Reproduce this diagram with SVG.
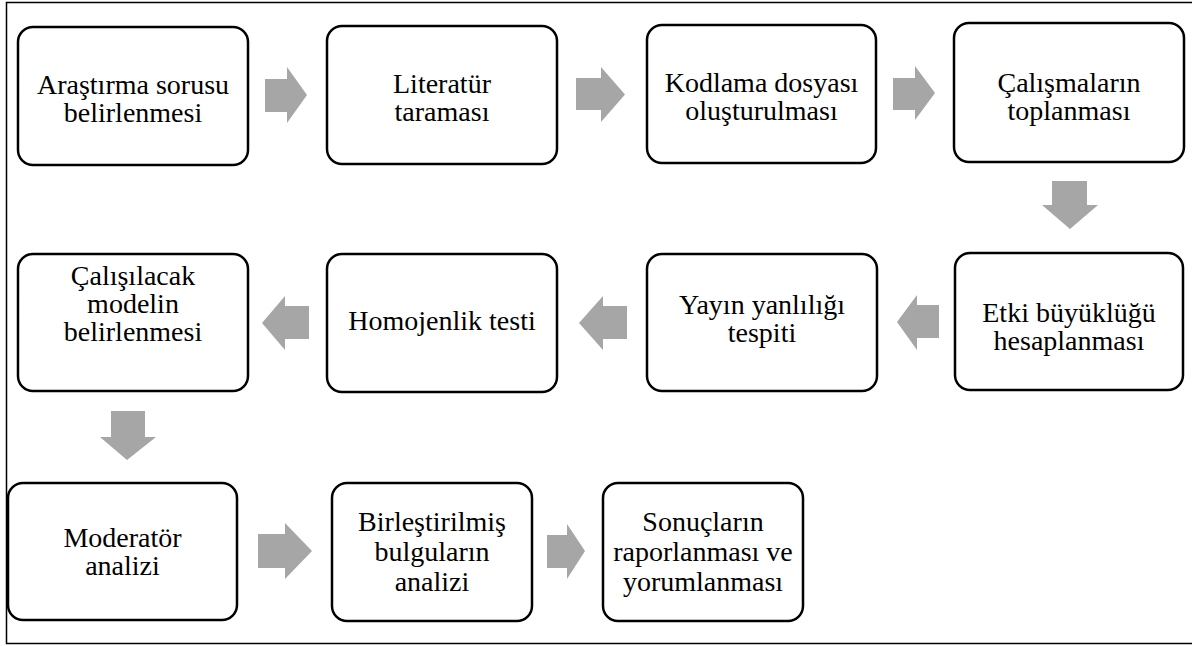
<svg xmlns="http://www.w3.org/2000/svg" width="1192" height="646" viewBox="0 0 1192 646">
<defs>
<style>
.frame{fill:none;stroke:#000;stroke-width:1.5}
.box{fill:#fff;stroke:#000;stroke-width:2.5}
.arr{fill:#a6a6a6;stroke:none}
</style>
</defs>
<rect width="1192" height="646" fill="#fff"/>
<rect class="frame" x="6.5" y="2.5" width="1200" height="641"/>
<g id="connectors">
<polygon class="arr" points="265,79 287,79 287,67 307,95 287,123 287,112 265,112"/>
<polygon class="arr" points="576,78 601,78 601,67 625,94.5 601,122 601,110 576,110"/>
<polygon class="arr" points="893,78 915,78 915,66 935,93 915,120 915,110 893,110"/>
<polygon class="arr" points="1052,181 1087,181 1087,205 1098,205 1070,229 1042,205 1052,205"/>
<polygon class="arr" points="939,305 917,305 917,295 897,322 917,350 917,338 939,338"/>
<polygon class="arr" points="627,306 603,306 603,296 579,323 603,350 603,339 627,339"/>
<polygon class="arr" points="309,306 285,306 285,296 262,323 285,350 285,339 309,339"/>
<polygon class="arr" points="111,411 145,411 145,437 156,437 127,460 100,437 111,437"/>
<polygon class="arr" points="258,534 285,534 285,523 312,551 285,579 285,568 258,568"/>
<polygon class="arr" points="547,535 567,535 567,524 585,551 567,579 567,568 547,568"/>
</g>
<g font-family="Liberation Serif, serif" font-size="28" fill="#000" text-anchor="middle">
<g id="n1"><rect class="box" x="18" y="27" width="230" height="138" rx="15"/><text x="133" y="94">Araştırma sorusu</text><text x="133" y="122">belirlenmesi</text></g>
<g id="n2"><rect class="box" x="327" y="26" width="230" height="138" rx="15"/><text x="442" y="93">Literatür</text><text x="442" y="121">taraması</text></g>
<g id="n3"><rect class="box" x="647" y="25" width="229" height="138" rx="15"/><text x="761.5" y="92">Kodlama dosyası</text><text x="761.5" y="120">oluşturulması</text></g>
<g id="n4"><rect class="box" x="954" y="23" width="230" height="139" rx="15"/><text x="1069" y="92">Çalışmaların</text><text x="1069" y="120">toplanması</text></g>
<g id="n5"><rect class="box" x="955" y="253" width="228" height="137" rx="15"/><text x="1069" y="322">Etki büyüklüğü</text><text x="1069" y="350">hesaplanması</text></g>
<g id="n6"><rect class="box" x="647" y="254" width="230" height="137" rx="15"/><text x="762" y="314">Yayın yanlılığı</text><text x="762" y="342">tespiti</text></g>
<g id="n7"><rect class="box" x="327" y="254" width="230" height="138" rx="15"/><text x="442" y="330">Homojenlik testi</text></g>
<g id="n8"><rect class="box" x="18" y="254" width="230" height="137" rx="15"/><text x="133" y="285">Çalışılacak</text><text x="133" y="313">modelin</text><text x="133" y="341">belirlenmesi</text></g>
<g id="n9"><rect class="box" x="8" y="483" width="229" height="137" rx="15"/><text x="122.5" y="547">Moderatör</text><text x="122.5" y="575">analizi</text></g>
<g id="n10"><rect class="box" x="332" y="483" width="200" height="138" rx="15"/><text x="432" y="531">Birleştirilmiş</text><text x="432" y="561">bulguların</text><text x="432" y="591">analizi</text></g>
<g id="n11"><rect class="box" x="603" y="483" width="200" height="138" rx="15"/><text x="703" y="531">Sonuçların</text><text x="703" y="561">raporlanması ve</text><text x="703" y="591">yorumlanması</text></g>
</g>
</svg>
